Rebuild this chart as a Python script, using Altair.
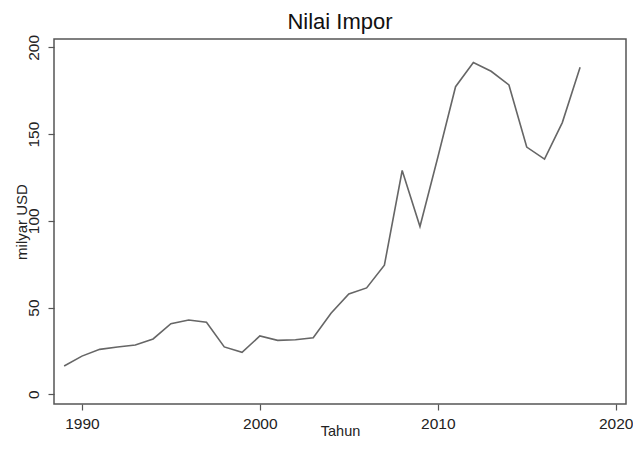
import altair as alt
import pandas as pd

years = list(range(1989, 2019))
imports = [16.3, 22.0, 25.9, 27.3, 28.4, 31.9, 40.7, 42.8, 41.5, 27.3,
           24.2, 33.6, 31.1, 31.4, 32.6, 46.7, 57.8, 61.3, 74.4, 129.0,
           96.7, 136.5, 177.3, 191.2, 186.2, 178.3, 142.5, 135.6, 156.6, 188.5]

x_ticks = [1990, 2000, 2010, 2020]
y_ticks = [0, 50, 100, 150, 200]

df = pd.DataFrame({"Tahun": years, "Impor": imports})

FONT = "Liberation Sans"

chart = alt.Chart(df).mark_line(color="#666666", strokeWidth=1.6).encode(
    x=alt.X("Tahun:Q",
            scale=alt.Scale(domain=[1988.43, 2020.58], nice=False, zero=False),
            axis=alt.Axis(values=x_ticks, format="d", title="Tahun",
                          grid=False, domain=False, tickSize=6,
                          tickColor="#555555", tickWidth=1.2,
                          labelFontSize=15.5, labelPadding=6, labelColor="#222222",
                          labelFlush=False, labelOverlap=False,
                          titleFontSize=14.5, titleFontWeight="normal",
                          titlePadding=-7, titleColor="#222222")),
    y=alt.Y("Impor:Q",
            scale=alt.Scale(domain=[-5.6, 204.8], nice=False, zero=False),
            axis=alt.Axis(values=y_ticks, title="milyar USD",
                          grid=False, domain=False, tickSize=6,
                          tickColor="#555555", tickWidth=1.2,
                          labelFontSize=15.5, labelAngle=-90,
                          labelAlign="center", labelBaseline="bottom",
                          labelPadding=7, labelColor="#222222",
                          titleFontSize=15, titleFontWeight="normal",
                          titlePadding=-3, titleColor="#222222")),
).properties(
    width=572,
    height=365,
    title=alt.TitleParams("Nilai Impor", fontSize=22, fontWeight="normal",
                          font=FONT, color="#111111", anchor="middle", offset=0),
    autosize=alt.AutoSizeParams(type="none"),
    padding={"left": 46, "top": 31, "right": 7, "bottom": 36},
).configure(
    font=FONT,
).configure_view(
    stroke="#555555",
    strokeWidth=1.5,
).configure_axis(
    labelFont=FONT,
    titleFont=FONT,
)

chart.save("out.html", embed_options={"renderer": "svg", "actions": False})
